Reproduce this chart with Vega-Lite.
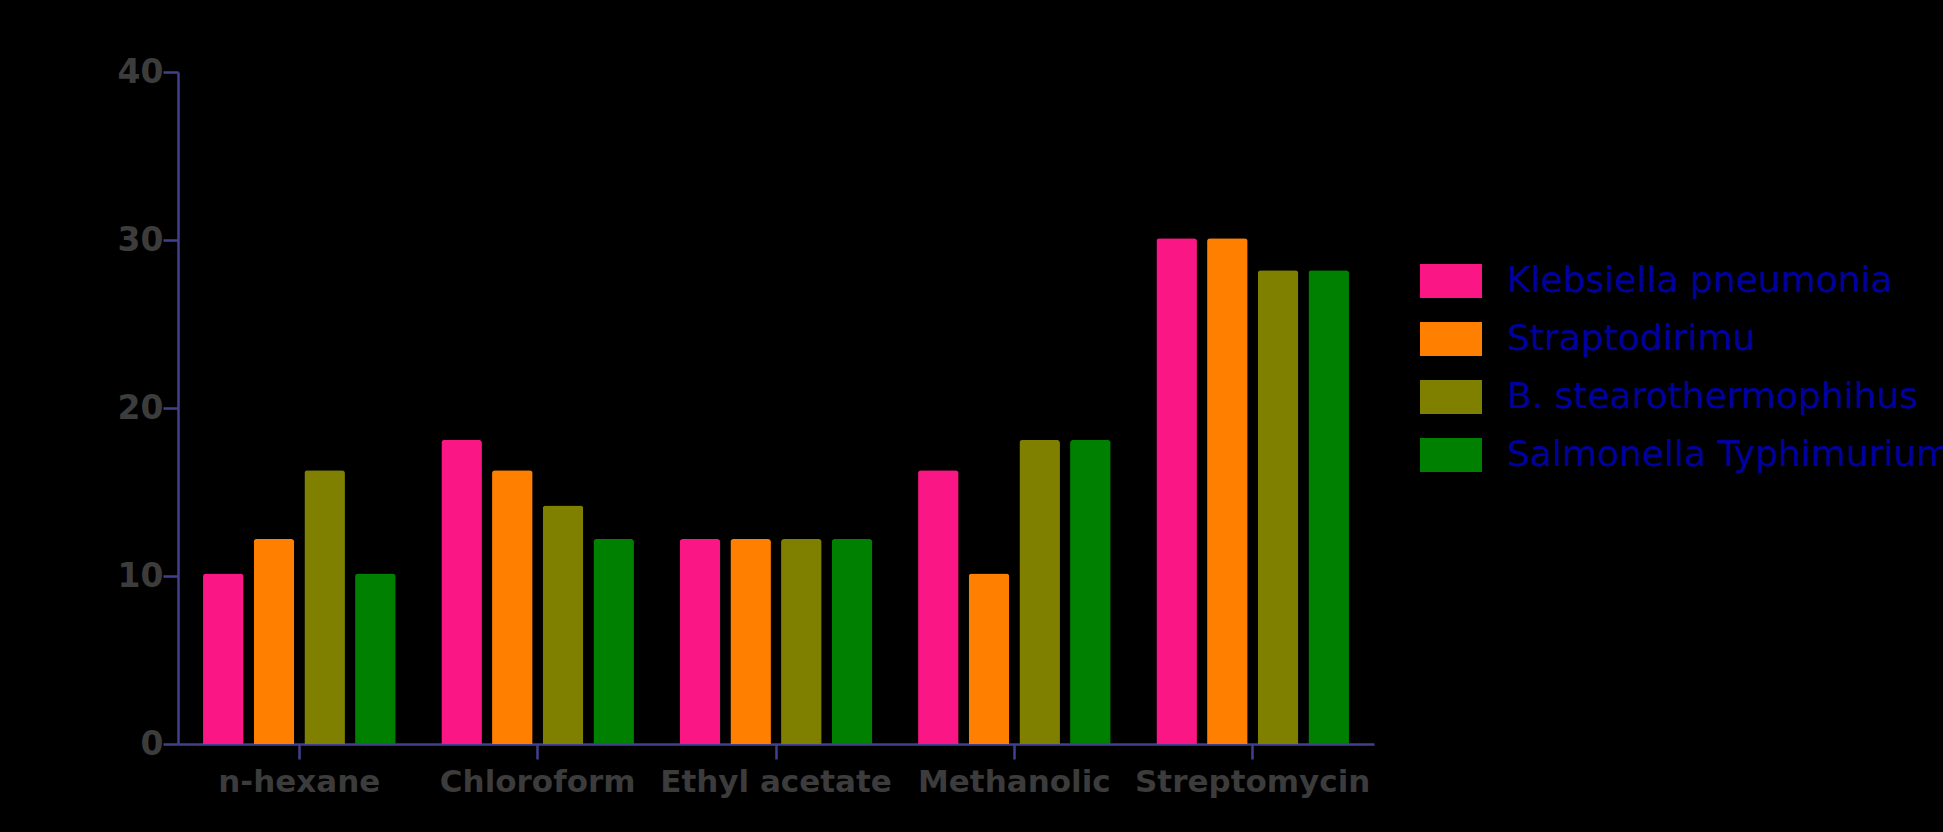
{
  "$schema": "https://vega.github.io/schema/vega-lite/v6.json",
  "description": "Grouped bars of inhibition zones by extract and organism.",
  "autosize": "none",
  "width": 1196,
  "height": 672,
  "padding": {"left": 178, "top": 72, "right": 569, "bottom": 88},
  "background": "black",
  "data": {
    "values": [
      {"extract": "n-hexane", "organism": "Klebsiella pneumonia", "zone": 10.15},
      {"extract": "n-hexane", "organism": "Straptodirimu", "zone": 12.2},
      {"extract": "n-hexane", "organism": "B. stearothermophihus", "zone": 16.3},
      {"extract": "n-hexane", "organism": "Salmonella Typhimurium", "zone": 10.15},
      {"extract": "Chloroform", "organism": "Klebsiella pneumonia", "zone": 18.1},
      {"extract": "Chloroform", "organism": "Straptodirimu", "zone": 16.3},
      {"extract": "Chloroform", "organism": "B. stearothermophihus", "zone": 14.2},
      {"extract": "Chloroform", "organism": "Salmonella Typhimurium", "zone": 12.2},
      {"extract": "Ethyl acetate", "organism": "Klebsiella pneumonia", "zone": 12.2},
      {"extract": "Ethyl acetate", "organism": "Straptodirimu", "zone": 12.2},
      {"extract": "Ethyl acetate", "organism": "B. stearothermophihus", "zone": 12.2},
      {"extract": "Ethyl acetate", "organism": "Salmonella Typhimurium", "zone": 12.2},
      {"extract": "Methanolic", "organism": "Klebsiella pneumonia", "zone": 16.3},
      {"extract": "Methanolic", "organism": "Straptodirimu", "zone": 10.15},
      {"extract": "Methanolic", "organism": "B. stearothermophihus", "zone": 18.1},
      {"extract": "Methanolic", "organism": "Salmonella Typhimurium", "zone": 18.1},
      {"extract": "Streptomycin", "organism": "Klebsiella pneumonia", "zone": 30.1},
      {"extract": "Streptomycin", "organism": "Straptodirimu", "zone": 30.1},
      {"extract": "Streptomycin", "organism": "B. stearothermophihus", "zone": 28.2},
      {"extract": "Streptomycin", "organism": "Salmonella Typhimurium", "zone": 28.2}
    ]
  },
  "mark": {"type": "bar", "cornerRadiusTopLeft": 3, "cornerRadiusTopRight": 3},
  "encoding": {
    "x": {
      "field": "extract",
      "type": "nominal",
      "sort": ["n-hexane", "Chloroform", "Ethyl acetate", "Methanolic", "Streptomycin"],
      "scale": {"paddingInner": 0.192, "paddingOuter": 0.105},
      "axis": {
        "title": null,
        "labelAngle": 0,
        "labelFont": "DejaVu Sans",
        "labelFontWeight": "bold",
        "labelFontSize": 31,
        "labelColor": "#3c3c3c",
        "labelPadding": 8,
        "labelLimit": 0,
        "domainColor": "#40408f",
        "domainWidth": 2.5,
        "tickColor": "#40408f",
        "tickWidth": 2.5,
        "tickSize": 15
      }
    },
    "xOffset": {
      "field": "organism",
      "type": "nominal",
      "sort": ["Klebsiella pneumonia", "Straptodirimu", "B. stearothermophihus", "Salmonella Typhimurium"],
      "scale": {"paddingInner": 0.2, "paddingOuter": 0}
    },
    "y": {
      "field": "zone",
      "type": "quantitative",
      "scale": {"domain": [0, 40]},
      "axis": {
        "title": null,
        "values": [0, 10, 20, 30, 40],
        "grid": false,
        "labelFont": "DejaVu Sans",
        "labelFontWeight": "bold",
        "labelFontSize": 33,
        "labelColor": "#3c3c3c",
        "labelPadding": 0,
        "domainColor": "#40408f",
        "domainWidth": 2.5,
        "tickColor": "#40408f",
        "tickWidth": 2.5,
        "tickSize": 15
      }
    },
    "color": {
      "field": "organism",
      "type": "nominal",
      "sort": ["Klebsiella pneumonia", "Straptodirimu", "B. stearothermophihus", "Salmonella Typhimurium"],
      "scale": {"range": ["#fa1685", "#ff8000", "#808000", "#008000"]},
      "legend": {
        "title": null,
        "orient": "none",
        "legendX": 1242,
        "legendY": 178,
        "symbolType": "M-1,-0.548H1V0.548H-1Z",
        "symbolSize": 3844,
        "symbolStrokeWidth": 0,
        "labelFont": "DejaVu Sans",
        "labelFontSize": 36,
        "labelColor": "#0000a0",
        "labelOffset": 25,
        "labelLimit": 0,
        "rowPadding": 9
      }
    }
  },
  "config": {
    "view": {"stroke": null}
  }
}
